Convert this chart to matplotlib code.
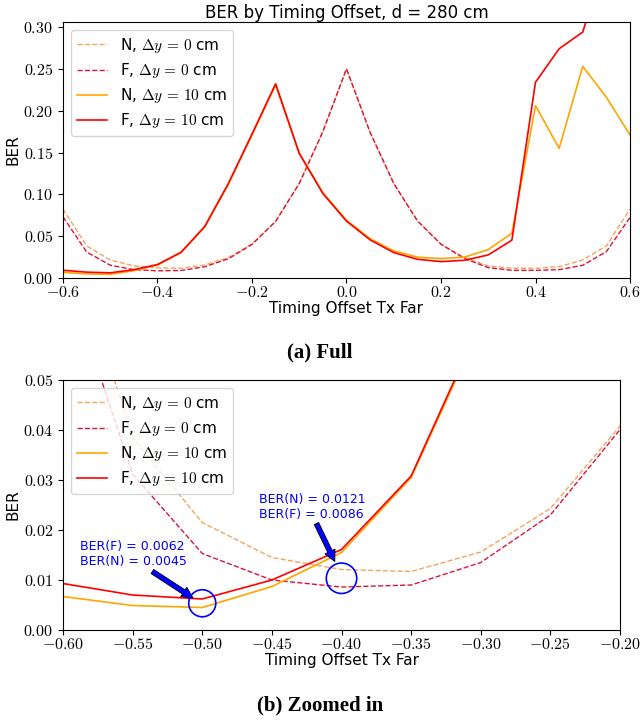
import matplotlib
matplotlib.use("Agg")
import matplotlib.pyplot as plt
from matplotlib.ticker import FuncFormatter, MultipleLocator

plt.rcParams['mathtext.fontset'] = 'cm'

# timing offsets (Tx far)
offsets = [-0.60, -0.55, -0.50, -0.45, -0.40, -0.35, -0.30, -0.25, -0.20,
           -0.15, -0.10, -0.05, 0.00, 0.05, 0.10, 0.15, 0.20, 0.25, 0.30,
           0.35, 0.40, 0.45, 0.50, 0.55, 0.60]

ber_n_0 = [0.0824, 0.0385, 0.0215, 0.0145, 0.0121, 0.0117, 0.0156, 0.0243,
           0.0408, 0.0676, 0.1130, 0.1750, 0.2500, 0.1740, 0.1130, 0.0684,
           0.0404, 0.0244, 0.0144, 0.0116, 0.0116, 0.0136, 0.0216, 0.0384,
           0.0824]
ber_f_0 = [0.0732, 0.0312, 0.0153, 0.0100, 0.0086, 0.0090, 0.0135, 0.0230,
           0.0401, 0.0676, 0.1130, 0.1750, 0.2500, 0.1740, 0.1130, 0.0684,
           0.0404, 0.0232, 0.0124, 0.0092, 0.0092, 0.0100, 0.0152, 0.0316,
           0.0724]
ber_n_10 = [0.0067, 0.0049, 0.0045, 0.0087, 0.0155, 0.0305, 0.0610, 0.1120,
            0.1710, 0.2310, 0.1490, 0.1020, 0.0690, 0.0470, 0.0324, 0.0250,
            0.0232, 0.0250, 0.0340, 0.0536, 0.2060, 0.1550, 0.2530, 0.2160,
            0.1710]
ber_f_10 = [0.0093, 0.0070, 0.0062, 0.0100, 0.0161, 0.0308, 0.0616, 0.1130,
            0.1720, 0.2320, 0.1490, 0.1010, 0.0680, 0.0456, 0.0304, 0.0224,
            0.0196, 0.0212, 0.0276, 0.0452, 0.2340, 0.2740, 0.2940, 0.3860,
            0.4500]

labels = [r"N, $\Delta y\,=\,0$ cm", r"F, $\Delta y\,=\,0$ cm",
          r"N, $\Delta y\,=\,10$ cm", r"F, $\Delta y\,=\,10$ cm"]

# circled points in the zoomed view and their notes
marked_x = [-0.50, -0.40]
marked_y = [0.00535, 0.01035]
notes = ["BER(F) = 0.0062\nBER(N) = 0.0045",
         "BER(N) = 0.0121\nBER(F) = 0.0086"]


def draw_lines(ax):
    ax.plot(offsets, ber_n_0, '--', color='#f4a460', lw=1.0, label=labels[0])
    ax.plot(offsets, ber_f_0, '--', color='#dc143c', lw=1.0, label=labels[1])
    ax.plot(offsets, ber_n_10, '-', color='#ffa500', lw=1.2, label=labels[2])
    ax.plot(offsets, ber_f_10, '-', color='#ff0000', lw=1.2, label=labels[3])


def style_axes(ax, fmt):
    ax.xaxis.set_major_formatter(FuncFormatter(lambda v, p: f"${v:{fmt}}$"))
    ax.yaxis.set_major_formatter(FuncFormatter(lambda v, p: f"${v:.2f}$"))
    ax.tick_params(labelsize=11.5)
    ax.tick_params(axis='x', pad=1.5)
    ax.set_xlabel("Timing Offset Tx Far", fontsize=11, labelpad=0.5)
    ax.set_ylabel("BER", fontsize=11, labelpad=2)
    ax.legend(loc='upper left', fontsize=11, labelspacing=0.4)


fig = plt.figure(figsize=(6.4, 7.21), dpi=100)

ax1 = fig.add_axes([0.0984, 0.6144, 0.8860, 0.3551])
draw_lines(ax1)
ax1.set_xlim(-0.6, 0.6)
ax1.set_ylim(0, 0.306)
ax1.xaxis.set_major_locator(MultipleLocator(0.2))
ax1.yaxis.set_major_locator(MultipleLocator(0.05))
style_axes(ax1, ".1f")
ax1.set_title("BER by Timing Offset, d = 280 cm", fontsize=12, pad=3)

ax2 = fig.add_axes([0.0984, 0.1262, 0.8704, 0.3467])
draw_lines(ax2)
ax2.set_xlim(-0.6, -0.2)
ax2.set_ylim(0, 0.05)
ax2.xaxis.set_major_locator(MultipleLocator(0.05))
ax2.yaxis.set_major_locator(MultipleLocator(0.01))
style_axes(ax2, ".2f")

ax2.scatter(marked_x, marked_y, s=[380, 480], facecolors='none',
            edgecolors='blue', linewidths=1.2, zorder=5)
ax2.text(-0.588, 0.0152, notes[0], color='blue', fontsize=9, va='center')
ax2.text(-0.4594, 0.0247, notes[1], color='blue', fontsize=9, va='center')
arrow = dict(facecolor='blue', edgecolor='black', lw=0.6, width=3.5,
             headwidth=8, headlength=8, shrink=0)
ax2.annotate('', xy=(-0.5066, 0.0064), xytext=(-0.5358, 0.0117),
             arrowprops=arrow)
ax2.annotate('', xy=(-0.4048, 0.0137), xytext=(-0.4180, 0.0213),
             arrowprops=arrow)

fig.text(0.5, 1 - 352 / 721, "(a) Full", ha='center', va='center',
         fontsize=15, fontweight='bold', family='Liberation Serif')
fig.text(0.5, 1 - 705 / 721, "(b) Zoomed in", ha='center', va='center',
         fontsize=15, fontweight='bold', family='Liberation Serif')

fig.savefig("out.png", dpi=100)
